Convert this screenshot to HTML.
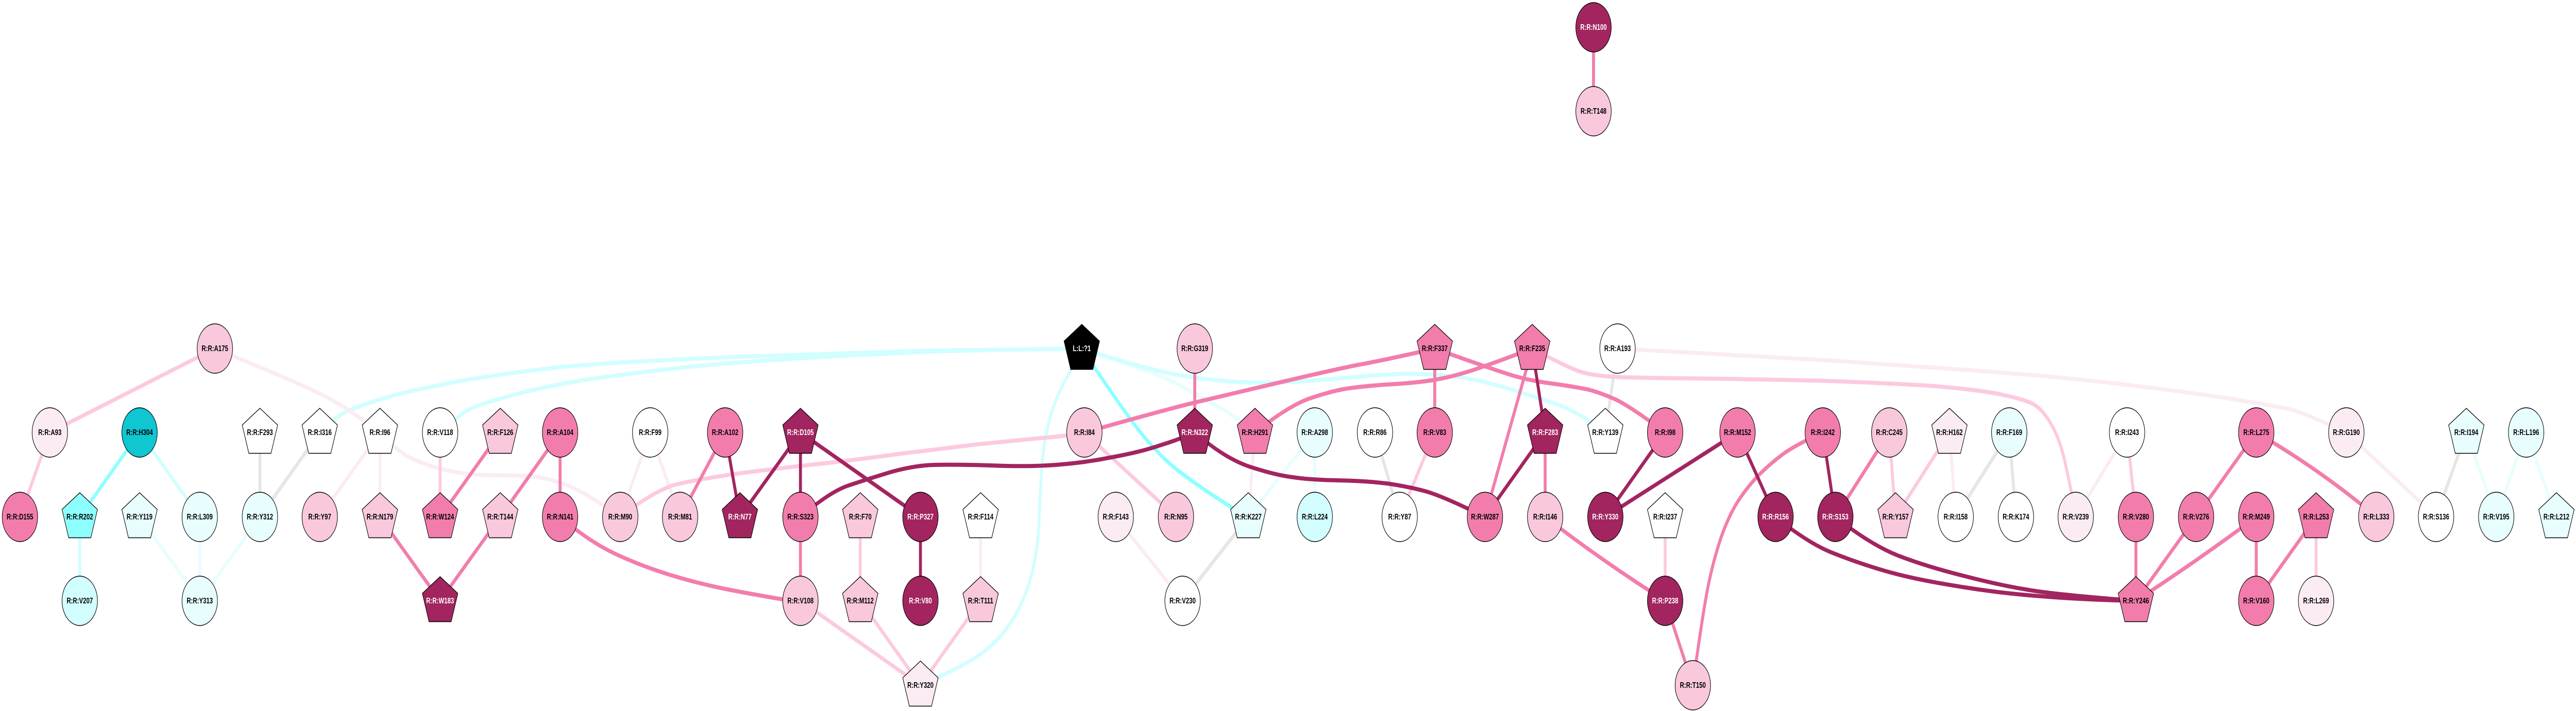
<!DOCTYPE html>
<html><head><meta charset="utf-8"><title>Residue network</title>
<style>
html,body{margin:0;padding:0;background:#fff;width:100%;height:100%;overflow:hidden}
svg{display:block;position:fixed;left:0;top:0;width:100vw;height:100vh}
text{font:bold 16px "Liberation Sans",Arial,sans-serif;text-anchor:middle;fill:#000}
.n circle,.n use{stroke:#000;stroke-width:1.4}
.p{fill:#a2255f}.b{fill:#f27dac}.m{fill:#f9c8dd}.l{fill:#fbecf4}.w{fill:#fff}
.c1{fill:#e8fefe}.c2{fill:#d2feff}.c3{fill:#8dffff}.t{fill:#0fc6d1}.k{fill:#000}
.p text,.k text{fill:#fff}
.e path{fill:none;stroke-width:8;stroke-linecap:butt}
.eg{stroke:#e6e6e6}.e1{stroke:#e8fefe}.e2{stroke:#d2feff}.e3{stroke:#8dffff}
.el{stroke:#fbecf4}.em{stroke:#fccae0}.eb{stroke:#f27dac}.ep{stroke:#a2255f}
</style></head><body>
<svg xmlns="http://www.w3.org/2000/svg" viewBox="0 0 6977 1381" preserveAspectRatio="none">
<defs><polygon id="pg" points="0,-47 48,-14.5 30,40.5 -30,40.5 -48,-14.5"/></defs>
<rect width="6977" height="1381" fill="#fff"/>
<g class="e">
<!-- grey -->
<g class="eg">
<path d="M704 840L704 1004"/><path d="M866 840L704 1004"/><path d="M3381 1004L3203 1167"/><path d="M3724 840L3791 1004"/><path d="M4381 677L4348 840"/><path d="M5442 840L5297 1004"/><path d="M5442 840L5460 1004"/><path d="M6680 840L6598 1004"/>
</g>
<!-- cyan -->
<g class="e1">
<path d="M378 1004L541 1167"/><path d="M541 1004L541 1167"/><path d="M704 1004L541 1167"/><path d="M3561 840L3381 1004"/><path d="M3561 840L3561 1004"/><path d="M6680 840L6761 1004"/><path d="M6842 840L6761 1004"/><path d="M6842 840L6924 1004"/>
<path d="M2930 677Q3127 723 3184 744Q3242 766 3299 790Q3357 814 3399 840"/>
</g>
<g class="e2">
<path d="M378 840L541 1004"/><path d="M216 1004L216 1167"/>
<path d="M1192 840Q1238 811 1257 801Q1276 792 1314 783Q1353 774 1429 760Q1506 747 1582 738Q1659 730 1774 720Q1889 710 2003 704Q2118 698 2259 692Q2400 687 2515 683Q2630 680 2930 677"/>
<path d="M866 840Q903 814 926 804Q949 795 1010 780Q1071 766 1135 756Q1200 747 1238 741Q1276 736 1353 728Q1430 720 1506 714Q1583 708 1736 702Q1889 696 2003 693Q2118 690 2259 687Q2400 684 2515 681Q2630 679 2930 677"/>
<path d="M2493 1331Q2630 1288 2675 1260Q2721 1232 2752 1192Q2783 1152 2798 1104Q2813 1056 2815 1003Q2817 950 2823 899Q2829 848 2844 811Q2859 774 2880 746Q2901 718 2930 677"/>
<path d="M2930 677Q3127 723 3222 732Q3318 742 3394 743Q3471 744 3535 740Q3600 737 3676 732Q3753 727 3810 726Q3868 726 3933 731Q3998 736 4067 751Q4136 766 4204 782Q4273 798 4348 840"/>
</g>
<g class="e3">
<path d="M378 840L216 1004"/>
<path d="M2930 677Q3050 806 3096 846Q3142 886 3184 910Q3226 934 3281 960Q3337 987 3381 1004"/>
</g>
<!-- light pink -->
<g class="el">
<path d="M1029 840L866 1004"/><path d="M1029 840L1029 1004"/><path d="M1761 840L1680 1004"/><path d="M1761 840L1842 1004"/><path d="M2656 1004L2656 1167"/><path d="M3022 1004L3203 1167"/><path d="M3399 840L3381 1004"/><path d="M5280 840L5297 1004"/><path d="M5761 840L5622 1004"/><path d="M6355 840L6598 1004"/>
<path d="M582 677Q803 742 876 768Q949 795 1010 832Q1071 870 1090 880Q1110 891 1151 901Q1192 912 1234 917Q1276 923 1333 923Q1391 923 1437 925Q1483 928 1532 941Q1582 955 1680 1004"/>
<path d="M4381 677Q4800 694 4953 700Q5106 707 5335 719Q5565 731 5732 745Q5900 759 6037 774Q6175 790 6209 796Q6243 803 6355 840"/>
</g>
<!-- mid pink -->
<g class="em">
<path d="M582 677L135 840"/><path d="M135 840L54 1004"/><path d="M1192 840L1192 1004"/><path d="M2330 1004L2330 1167"/><path d="M2168 1167L2493 1331"/><path d="M2330 1167L2493 1331"/><path d="M2656 1167L2493 1331"/><path d="M2937 840L3185 1004"/><path d="M3886 840L3791 1004"/><path d="M4510 1004L4510 1167"/><path d="M5117 840L5134 1004"/><path d="M5280 840L5134 1004"/><path d="M5761 840L5785 1004"/><path d="M6273 1004L6273 1167"/>
<path d="M1680 1004Q1774 952 1831 941Q1889 931 1996 920Q2103 910 2206 902Q2310 894 2431 882Q2553 871 2648 863Q2744 856 2817 851Q2890 847 2937 840"/>
<path d="M4150 677Q4250 715 4277 721Q4304 728 4353 731Q4403 734 4601 735Q4800 737 4953 740Q5106 744 5221 749Q5336 755 5412 765Q5489 776 5512 787Q5535 798 5557 826Q5580 854 5595 904Q5611 955 5622 1004"/>
</g>
<!-- bright pink -->
<g class="eb">
<path d="M4316 53L4316 216"/><path d="M1029 1004L1192 1167"/><path d="M1355 840L1192 1004"/><path d="M1517 840L1355 1004"/><path d="M1517 840L1517 1004"/><path d="M1355 1004L1192 1167"/><path d="M1964 840L1842 1004"/><path d="M2168 1004L2168 1167"/><path d="M3236 677L3236 840"/><path d="M3886 677L3886 840"/><path d="M4150 677L4022 1004"/><path d="M4185 840L4185 1004"/><path d="M4510 1167L4585 1331"/><path d="M5117 840L4971 1004"/><path d="M5785 1004L5785 1167"/><path d="M5948 1004L5785 1167"/><path d="M6111 840L5948 1004"/><path d="M6111 1004L6111 1167"/><path d="M6273 1004L6111 1167"/>
<path d="M1517 1004Q1598 1053 1667 1076Q1736 1099 1812 1116Q1889 1133 1965 1144Q2042 1155 2168 1170"/>
<path d="M2937 840Q3165 794 3241 781Q3318 768 3459 744Q3600 720 3676 709Q3753 699 3886 677"/>
<path d="M3399 840Q3487 790 3543 775Q3600 761 3638 756Q3676 751 3753 747Q3830 744 3875 739Q3921 734 3971 723Q4021 712 4150 677"/>
<path d="M3886 677Q4021 712 4078 725Q4136 739 4204 745Q4273 752 4304 757Q4335 763 4373 775Q4411 787 4510 840"/>
<path d="M4585 1331Q4612 1190 4626 1140Q4640 1090 4660 1047Q4680 1005 4706 975Q4733 945 4766 921Q4800 897 4835 879Q4870 862 4937 840"/>
<path d="M4185 1004Q4340 1090 4510 1167"/>
<path d="M5785 1167Q5950 1090 6111 1004"/>
<path d="M6111 840Q6290 915 6436 1004"/>
</g>
<!-- dark -->
<g class="ep">
<path d="M2168 840L2004 1004"/><path d="M2168 840L2168 1004"/><path d="M2168 840L2493 1004"/><path d="M1964 840L2004 1004"/><path d="M2493 1004L2493 1167"/><path d="M4150 677L4185 840"/><path d="M4185 840L4022 1004"/><path d="M4510 840L4348 1004"/><path d="M4706 840L4348 1004"/><path d="M4706 840L4809 1004"/><path d="M4937 840L4971 1004"/>
<path d="M2168 1004Q2248 955 2298 943Q2348 931 2412 917Q2476 904 2530 903Q2584 902 2683 904Q2783 907 2859 903Q2936 899 3012 888Q3089 878 3142 865Q3196 853 3236 840"/>
<path d="M3236 840Q3318 891 3387 907Q3456 923 3502 927Q3548 932 3623 933Q3699 934 3756 939Q3814 945 3860 954Q3906 963 4022 1004"/>
<path d="M4809 1004Q4899 1056 4964 1074Q5030 1093 5106 1109Q5183 1125 5297 1138Q5412 1152 5527 1158Q5642 1165 5785 1167"/>
<path d="M4971 1004Q5068 1059 5144 1080Q5221 1101 5316 1118Q5412 1136 5488 1145Q5565 1155 5785 1167"/>
</g>
</g>
<!-- nodes -->
<g class="n">
<g class="p" transform="translate(4316,53)"><circle r="48"/><text y="5">R:R:N100</text></g>
<g class="m" transform="translate(4316,216)"><circle r="48"/><text y="5">R:R:T148</text></g>

<g class="m" transform="translate(582,677)"><circle r="48"/><text y="5">R:R:A175</text></g>
<g class="k" transform="translate(2930,677)"><use href="#pg"/><text y="5">L:L:?1</text></g>
<g class="m" transform="translate(3236,677)"><circle r="48"/><text y="5">R:R:G319</text></g>
<g class="b" transform="translate(3886,677)"><use href="#pg"/><text y="5">R:R:F337</text></g>
<g class="b" transform="translate(4150,677)"><use href="#pg"/><text y="5">R:R:F235</text></g>
<g class="w" transform="translate(4381,677)"><circle r="48"/><text y="5">R:R:A193</text></g>

<g class="l" transform="translate(135,840)"><circle r="48"/><text y="5">R:R:A93</text></g>
<g class="t" transform="translate(378,840)"><circle r="48"/><text y="5">R:R:H304</text></g>
<g class="w" transform="translate(704,840)"><use href="#pg"/><text y="5">R:R:F293</text></g>
<g class="w" transform="translate(866,840)"><use href="#pg"/><text y="5">R:R:I316</text></g>
<g class="w" transform="translate(1029,840)"><use href="#pg"/><text y="5">R:R:I96</text></g>
<g class="w" transform="translate(1192,840)"><circle r="48"/><text y="5">R:R:V118</text></g>
<g class="m" transform="translate(1355,840)"><use href="#pg"/><text y="5">R:R:F126</text></g>
<g class="b" transform="translate(1517,840)"><circle r="48"/><text y="5">R:R:A104</text></g>
<g class="w" transform="translate(1761,840)"><circle r="48"/><text y="5">R:R:F99</text></g>
<g class="b" transform="translate(1964,840)"><circle r="48"/><text y="5">R:R:A102</text></g>
<g class="p" transform="translate(2168,840)"><use href="#pg"/><text y="5">R:R:D105</text></g>
<g class="m" transform="translate(2937,840)"><circle r="48"/><text y="5">R:R:I84</text></g>
<g class="p" transform="translate(3236,840)"><use href="#pg"/><text y="5">R:R:N322</text></g>
<g class="b" transform="translate(3399,840)"><use href="#pg"/><text y="5">R:R:H291</text></g>
<g class="c1" transform="translate(3561,840)"><circle r="48"/><text y="5">R:R:A298</text></g>
<g class="w" transform="translate(3724,840)"><circle r="48"/><text y="5">R:R:R86</text></g>
<g class="b" transform="translate(3886,840)"><circle r="48"/><text y="5">R:R:V83</text></g>
<g class="p" transform="translate(4185,840)"><use href="#pg"/><text y="5">R:R:F283</text></g>
<g class="w" transform="translate(4348,840)"><use href="#pg"/><text y="5">R:R:Y139</text></g>
<g class="b" transform="translate(4510,840)"><circle r="48"/><text y="5">R:R:I98</text></g>
<g class="b" transform="translate(4706,840)"><circle r="48"/><text y="5">R:R:M152</text></g>
<g class="b" transform="translate(4937,840)"><circle r="48"/><text y="5">R:R:I242</text></g>
<g class="m" transform="translate(5117,840)"><circle r="48"/><text y="5">R:R:C245</text></g>
<g class="l" transform="translate(5280,840)"><use href="#pg"/><text y="5">R:R:H162</text></g>
<g class="c1" transform="translate(5442,840)"><circle r="48"/><text y="5">R:R:F169</text></g>
<g class="w" transform="translate(5761,840)"><circle r="48"/><text y="5">R:R:I243</text></g>
<g class="b" transform="translate(6111,840)"><circle r="48"/><text y="5">R:R:L275</text></g>
<g class="l" transform="translate(6355,840)"><circle r="48"/><text y="5">R:R:G190</text></g>
<g class="c1" transform="translate(6680,840)"><use href="#pg"/><text y="5">R:R:I194</text></g>
<g class="c1" transform="translate(6842,840)"><circle r="48"/><text y="5">R:R:L196</text></g>

<g class="b" transform="translate(54,1004)"><circle r="48"/><text y="5">R:R:D155</text></g>
<g class="c3" transform="translate(216,1004)"><use href="#pg"/><text y="5">R:R:R202</text></g>
<g class="c1" transform="translate(378,1004)"><use href="#pg"/><text y="5">R:R:Y119</text></g>
<g class="c1" transform="translate(541,1004)"><circle r="48"/><text y="5">R:R:L309</text></g>
<g class="c1" transform="translate(704,1004)"><circle r="48"/><text y="5">R:R:Y312</text></g>
<g class="m" transform="translate(866,1004)"><circle r="48"/><text y="5">R:R:Y97</text></g>
<g class="m" transform="translate(1029,1004)"><use href="#pg"/><text y="5">R:R:N179</text></g>
<g class="b" transform="translate(1192,1004)"><use href="#pg"/><text y="5">R:R:W124</text></g>
<g class="m" transform="translate(1355,1004)"><use href="#pg"/><text y="5">R:R:T144</text></g>
<g class="b" transform="translate(1517,1004)"><circle r="48"/><text y="5">R:R:N141</text></g>
<g class="m" transform="translate(1680,1004)"><circle r="48"/><text y="5">R:R:M90</text></g>
<g class="m" transform="translate(1842,1004)"><circle r="48"/><text y="5">R:R:M81</text></g>
<g class="p" transform="translate(2004,1004)"><use href="#pg"/><text y="5">R:R:N77</text></g>
<g class="b" transform="translate(2168,1004)"><circle r="48"/><text y="5">R:R:S323</text></g>
<g class="m" transform="translate(2330,1004)"><use href="#pg"/><text y="5">R:R:F70</text></g>
<g class="p" transform="translate(2493,1004)"><circle r="48"/><text y="5">R:R:P327</text></g>
<g class="w" transform="translate(2656,1004)"><use href="#pg"/><text y="5">R:R:F114</text></g>
<g class="l" transform="translate(3022,1004)"><circle r="48"/><text y="5">R:R:F143</text></g>
<g class="m" transform="translate(3185,1004)"><circle r="48"/><text y="5">R:R:N95</text></g>
<g class="c1" transform="translate(3381,1004)"><use href="#pg"/><text y="5">R:R:K227</text></g>
<g class="c2" transform="translate(3561,1004)"><circle r="48"/><text y="5">R:R:L224</text></g>
<g class="w" transform="translate(3791,1004)"><circle r="48"/><text y="5">R:R:Y87</text></g>
<g class="b" transform="translate(4022,1004)"><circle r="48"/><text y="5">R:R:W287</text></g>
<g class="m" transform="translate(4185,1004)"><circle r="48"/><text y="5">R:R:I146</text></g>
<g class="p" transform="translate(4348,1004)"><circle r="48"/><text y="5">R:R:Y330</text></g>
<g class="w" transform="translate(4510,1004)"><use href="#pg"/><text y="5">R:R:I237</text></g>
<g class="p" transform="translate(4809,1004)"><circle r="48"/><text y="5">R:R:R156</text></g>
<g class="p" transform="translate(4971,1004)"><circle r="48"/><text y="5">R:R:S153</text></g>
<g class="m" transform="translate(5134,1004)"><use href="#pg"/><text y="5">R:R:Y157</text></g>
<g class="w" transform="translate(5297,1004)"><circle r="48"/><text y="5">R:R:I158</text></g>
<g class="w" transform="translate(5460,1004)"><circle r="48"/><text y="5">R:R:K174</text></g>
<g class="l" transform="translate(5622,1004)"><circle r="48"/><text y="5">R:R:V239</text></g>
<g class="b" transform="translate(5785,1004)"><circle r="48"/><text y="5">R:R:V280</text></g>
<g class="b" transform="translate(5948,1004)"><circle r="48"/><text y="5">R:R:V276</text></g>
<g class="b" transform="translate(6111,1004)"><circle r="48"/><text y="5">R:R:M249</text></g>
<g class="b" transform="translate(6273,1004)"><use href="#pg"/><text y="5">R:R:L253</text></g>
<g class="m" transform="translate(6436,1004)"><circle r="48"/><text y="5">R:R:L333</text></g>
<g class="w" transform="translate(6598,1004)"><circle r="48"/><text y="5">R:R:S136</text></g>
<g class="c1" transform="translate(6761,1004)"><circle r="48"/><text y="5">R:R:V195</text></g>
<g class="c1" transform="translate(6924,1004)"><use href="#pg"/><text y="5">R:R:L212</text></g>

<g class="c2" transform="translate(216,1167)"><circle r="48"/><text y="5">R:R:V207</text></g>
<g class="c1" transform="translate(541,1167)"><circle r="48"/><text y="5">R:R:Y313</text></g>
<g class="p" transform="translate(1192,1167)"><use href="#pg"/><text y="5">R:R:W183</text></g>
<g class="m" transform="translate(2168,1167)"><circle r="48"/><text y="5">R:R:V108</text></g>
<g class="m" transform="translate(2330,1167)"><use href="#pg"/><text y="5">R:R:M112</text></g>
<g class="p" transform="translate(2493,1167)"><circle r="48"/><text y="5">R:R:V80</text></g>
<g class="m" transform="translate(2656,1167)"><use href="#pg"/><text y="5">R:R:T111</text></g>
<g class="w" transform="translate(3203,1167)"><circle r="48"/><text y="5">R:R:V230</text></g>
<g class="p" transform="translate(4510,1167)"><circle r="48"/><text y="5">R:R:P238</text></g>
<g class="b" transform="translate(5785,1167)"><use href="#pg"/><text y="5">R:R:Y246</text></g>
<g class="b" transform="translate(6111,1167)"><circle r="48"/><text y="5">R:R:V160</text></g>
<g class="l" transform="translate(6273,1167)"><circle r="48"/><text y="5">R:R:L269</text></g>

<g class="l" transform="translate(2493,1331)"><use href="#pg"/><text y="5">R:R:Y320</text></g>
<g class="m" transform="translate(4585,1331)"><circle r="48"/><text y="5">R:R:T150</text></g>
</g>
</svg>
</body></html>
